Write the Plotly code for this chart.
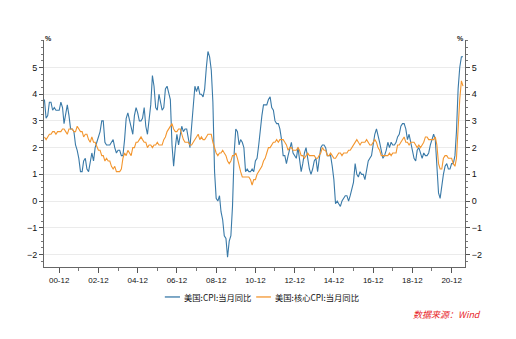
import plotly.graph_objects as go
import pandas as pd

start_month = "2000-03-01"

cpi = [
    3.8, 3.1, 3.2, 3.7, 3.7, 3.4, 3.5, 3.4, 3.4, 3.4,
    3.7, 3.5, 2.9, 3.3, 3.6, 3.2, 2.7, 2.7, 2.6, 2.1, 1.9, 1.6,
    1.1, 1.1, 1.5, 1.6, 1.2, 1.1, 1.5, 1.8, 1.5, 2.0, 2.2, 2.4,
    2.6, 3.0, 3.0, 2.2, 2.1, 2.1, 2.1, 2.2, 2.3, 2.0, 1.8, 1.9,
    1.9, 1.7, 1.7, 2.3, 3.1, 3.3, 3.0, 2.7, 2.5, 3.2, 3.5, 3.3,
    3.0, 3.0, 3.1, 3.5, 2.8, 2.5, 3.2, 3.6, 4.7, 4.3, 3.5, 3.4,
    4.0, 3.6, 3.4, 3.5, 4.2, 4.3, 4.1, 3.8, 2.1, 1.3, 2.0, 2.5,
    2.1, 2.4, 2.8, 2.6, 2.7, 2.7, 2.4, 2.0, 2.8, 3.5, 4.3, 4.1,
    4.3, 4.0, 4.0, 3.9, 4.2, 5.0, 5.6, 5.4, 4.9, 3.7, 1.1, 0.1,
    0.0, 0.2, -0.4, -0.7, -1.3, -1.4, -2.1, -1.5, -1.3, -0.2, 1.8, 2.7,
    2.6, 2.1, 2.3, 2.2, 2.0, 1.1, 1.2, 1.1, 1.1, 1.2, 1.1, 1.5,
    1.6, 2.1, 2.7, 3.2, 3.6, 3.6, 3.6, 3.8, 3.9, 3.5, 3.4, 3.0,
    2.9, 2.9, 2.7, 2.3, 1.7, 1.7, 1.4, 1.7, 2.0, 2.2, 1.8, 1.7,
    1.6, 2.0, 1.5, 1.1, 1.4, 1.8, 2.0, 1.5, 1.2, 1.0, 1.2, 1.5,
    1.6, 1.1, 1.5, 2.0, 2.1, 2.1, 2.0, 1.7, 1.7, 1.7, 1.3, 0.8,
    -0.1, 0.0, -0.1, -0.2, 0.0, 0.1, 0.2, 0.2, 0.0, 0.2, 0.5, 0.7,
    1.4, 1.0, 0.9, 1.1, 1.0, 1.0, 0.8, 1.1, 1.5, 1.6, 1.7, 2.1,
    2.5, 2.7, 2.4, 2.2, 1.9, 1.6, 1.7, 1.9, 2.2, 2.0, 2.2, 2.1,
    2.1, 2.2, 2.4, 2.5, 2.8, 2.9, 2.9, 2.7, 2.3, 2.5, 2.2, 1.9,
    1.6, 1.5, 1.9, 2.0, 1.8, 1.6, 1.8, 1.7, 1.7, 1.8, 2.1, 2.3,
    2.5, 2.3, 1.5, 0.3, 0.1, 0.6, 1.0, 1.3, 1.4, 1.2, 1.2, 1.4,
    1.4, 1.7, 2.6, 4.2, 5.0, 5.4, 5.4,
]

core = [
    2.4, 2.3, 2.4, 2.5, 2.5, 2.6, 2.6, 2.5, 2.6, 2.6,
    2.6, 2.7, 2.7, 2.6, 2.5, 2.7, 2.7, 2.7, 2.6, 2.6, 2.8, 2.7,
    2.6, 2.6, 2.4, 2.5, 2.5, 2.3, 2.2, 2.4, 2.2, 2.2, 2.0, 1.9,
    1.9, 1.7, 1.7, 1.5, 1.6, 1.5, 1.5, 1.3, 1.2, 1.3, 1.1, 1.1,
    1.1, 1.2, 1.6, 1.8, 1.7, 1.9, 1.8, 1.7, 2.0, 2.0, 2.2, 2.2,
    2.3, 2.4, 2.3, 2.2, 2.2, 2.0, 2.1, 2.1, 2.0, 2.1, 2.1, 2.2,
    2.1, 2.1, 2.1, 2.3, 2.4, 2.6, 2.7, 2.8, 2.9, 2.7, 2.6, 2.6,
    2.7, 2.7, 2.5, 2.3, 2.2, 2.2, 2.2, 2.1, 2.1, 2.2, 2.3, 2.4,
    2.5, 2.3, 2.4, 2.3, 2.3, 2.4, 2.5, 2.5, 2.5, 2.2, 2.0, 1.8,
    1.7, 1.8, 1.8, 1.9, 1.8, 1.7, 1.5, 1.4, 1.5, 1.7, 1.7, 1.8,
    1.6, 1.3, 1.1, 0.9, 0.9, 0.9, 0.9, 0.9, 0.8, 0.6, 0.8, 0.8,
    1.0, 1.1, 1.2, 1.3, 1.5, 1.6, 1.8, 2.0, 2.0, 2.1, 2.2, 2.2,
    2.3, 2.2, 2.3, 2.3, 2.3, 2.2, 2.1, 1.9, 2.0, 2.0, 1.9, 1.9,
    1.9, 2.0, 1.9, 1.7, 1.7, 1.6, 1.7, 1.8, 1.7, 1.7, 1.7, 1.7,
    1.6, 1.6, 1.7, 1.8, 2.0, 1.9, 1.9, 1.7, 1.7, 1.8, 1.7, 1.6,
    1.6, 1.7, 1.8, 1.8, 1.7, 1.8, 1.8, 1.8, 1.9, 1.9, 2.0, 2.1,
    2.2, 2.3, 2.2, 2.1, 2.2, 2.2, 2.2, 2.3, 2.2, 2.1, 2.1, 2.2,
    2.3, 2.2, 2.0, 1.9, 1.7, 1.7, 1.7, 1.7, 1.7, 1.8, 1.7, 1.8,
    1.8, 1.8, 2.1, 2.1, 2.2, 2.3, 2.4, 2.2, 2.2, 2.1, 2.2, 2.2,
    2.2, 2.1, 2.0, 2.1, 2.0, 2.1, 2.2, 2.4, 2.4, 2.3, 2.3, 2.3,
    2.3, 2.4, 2.1, 1.4, 1.2, 1.2, 1.6, 1.7, 1.7, 1.6, 1.6, 1.6,
    1.4, 1.3, 1.6, 3.0, 3.8, 4.5, 4.3,
]

names = ["美国:CPI:当月同比", "美国:核心CPI:当月同比"]
source_text = "数据来源：Wind"

dates = pd.date_range(start_month, periods=len(cpi), freq="MS")

BLUE = "#3A7AA8"
ORANGE = "#F3962F"
FONT = "Liberation Sans, Arial, sans-serif"
CJK = "Noto Sans CJK SC, sans-serif"

fig = go.Figure()
fig.add_trace(go.Scatter(x=dates, y=cpi, mode="lines", name=names[0],
                         line=dict(color=BLUE, width=1.1), showlegend=False))
fig.add_trace(go.Scatter(x=dates, y=core, mode="lines", name=names[1],
                         line=dict(color=ORANGE, width=1.1), showlegend=False))
# invisible trace bound to right axis so it renders
fig.add_trace(go.Scatter(x=dates, y=cpi, mode="lines", yaxis="y2",
                         line=dict(width=0, color="rgba(0,0,0,0)"),
                         showlegend=False, hoverinfo="skip"))

yr = [-2.47, 6.03]
axis_common = dict(
    range=yr, tickmode="array", tickvals=[-2, -1, 0, 1, 2, 3, 4, 5],
    ticks="outside", ticklen=4, tickcolor="#555", tickwidth=1,
    showline=True, linecolor="#666", linewidth=1,
    tickfont=dict(family=FONT, size=9, color="#111"),
    zeroline=False,
    minor=dict(dtick=0.25, tick0=0, ticks="outside", ticklen=2, tickcolor="#777", showgrid=False),
)

fig.update_layout(
    width=516, height=339,
    margin=dict(l=44, r=51, t=40, b=72),
    paper_bgcolor="white", plot_bgcolor="white",
    xaxis=dict(
        type="date", range=["2000-02-22", "2021-08-07"],
        tick0="2000-12-01", dtick="M24", tickformat="%y-%m",
        ticks="outside", ticklen=5, tickcolor="#555",
        showline=True, linecolor="#666", linewidth=1,
        showgrid=False, zeroline=False,
        tickfont=dict(family=FONT, size=8, color="#111"),
        minor=dict(tick0="2001-12-01", dtick="M24", ticks="outside", ticklen=3,
                   tickcolor="#777", showgrid=False),
    ),
    yaxis=dict(**axis_common, side="left", showgrid=True, gridcolor="#EBEBEB", gridwidth=1),
    yaxis2=dict(**axis_common, side="right", overlaying="y", showgrid=False),
    showlegend=False,
)

# manual legend (paper coordinates)
leg_y = -0.132
legend_items = [(0.287, 0.323, 0.328, BLUE, names[0]),
                (0.504, 0.539, 0.544, ORANGE, names[1])]
for x0, x1, xt, col, label in legend_items:
    fig.add_shape(type="line", xref="paper", yref="paper", x0=x0, x1=x1, y0=leg_y, y1=leg_y,
                  line=dict(color=col, width=1.3))
    fig.add_annotation(xref="paper", yref="paper", x=xt, y=leg_y, text=label,
                       showarrow=False, xanchor="left", yanchor="middle",
                       font=dict(family=CJK, size=8.3, color="#111"))

fig.add_annotation(xref="paper", yref="paper", x=0, y=1.0, text="<b>%</b>",
                   showarrow=False, xanchor="left", yanchor="bottom",
                   font=dict(family=FONT, size=7, color="#222"), xshift=-1, yshift=-4)
fig.add_annotation(xref="paper", yref="paper", x=1, y=1.0, text="<b>%</b>",
                   showarrow=False, xanchor="right", yanchor="bottom",
                   font=dict(family=FONT, size=7, color="#222"), xshift=1, yshift=-4)
fig.add_annotation(xref="paper", yref="paper", x=1.043, y=-0.211, text="<i>" + source_text + "</i>",
                   showarrow=False, xanchor="right", yanchor="middle",
                   font=dict(family=CJK, size=9, color="#E8262A"))

fig.write_html("out.html")
